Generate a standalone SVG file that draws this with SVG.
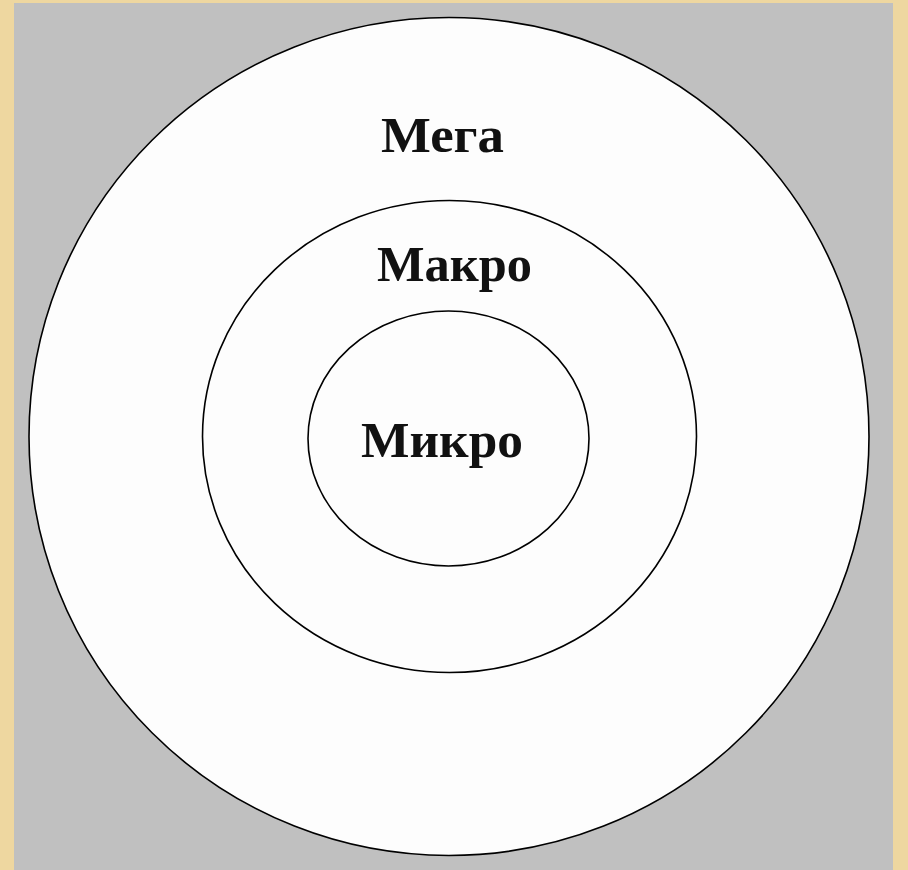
<svg xmlns="http://www.w3.org/2000/svg" width="908" height="870" viewBox="0 0 908 870">
<style>
.ring{fill:#fdfdfd;stroke:#000;stroke-width:1.6}
.lbl{font-family:"Liberation Serif","Times New Roman",serif;font-weight:bold;font-size:50px;fill:#111;text-anchor:middle}
</style>
<rect x="0" y="0" width="908" height="870" fill="#eed7a0"/>
<rect x="14" y="3" width="879" height="867" fill="#c0c0c0"/>
<g id="mega">
<ellipse class="ring" cx="449" cy="436.5" rx="420" ry="419"/>
<text class="lbl" x="442.5" y="152" textLength="123" lengthAdjust="spacingAndGlyphs">Мега</text>
</g>
<g id="makro">
<ellipse class="ring" cx="449.5" cy="436.5" rx="247" ry="236"/>
<text class="lbl" x="454.5" y="281" textLength="155" lengthAdjust="spacingAndGlyphs">Макро</text>
</g>
<g id="mikro">
<ellipse class="ring" cx="448.5" cy="438.5" rx="140.5" ry="127.5"/>
<text class="lbl" x="442" y="457" textLength="162" lengthAdjust="spacingAndGlyphs">Микро</text>
</g>
<g id="connectors"></g>
</svg>
